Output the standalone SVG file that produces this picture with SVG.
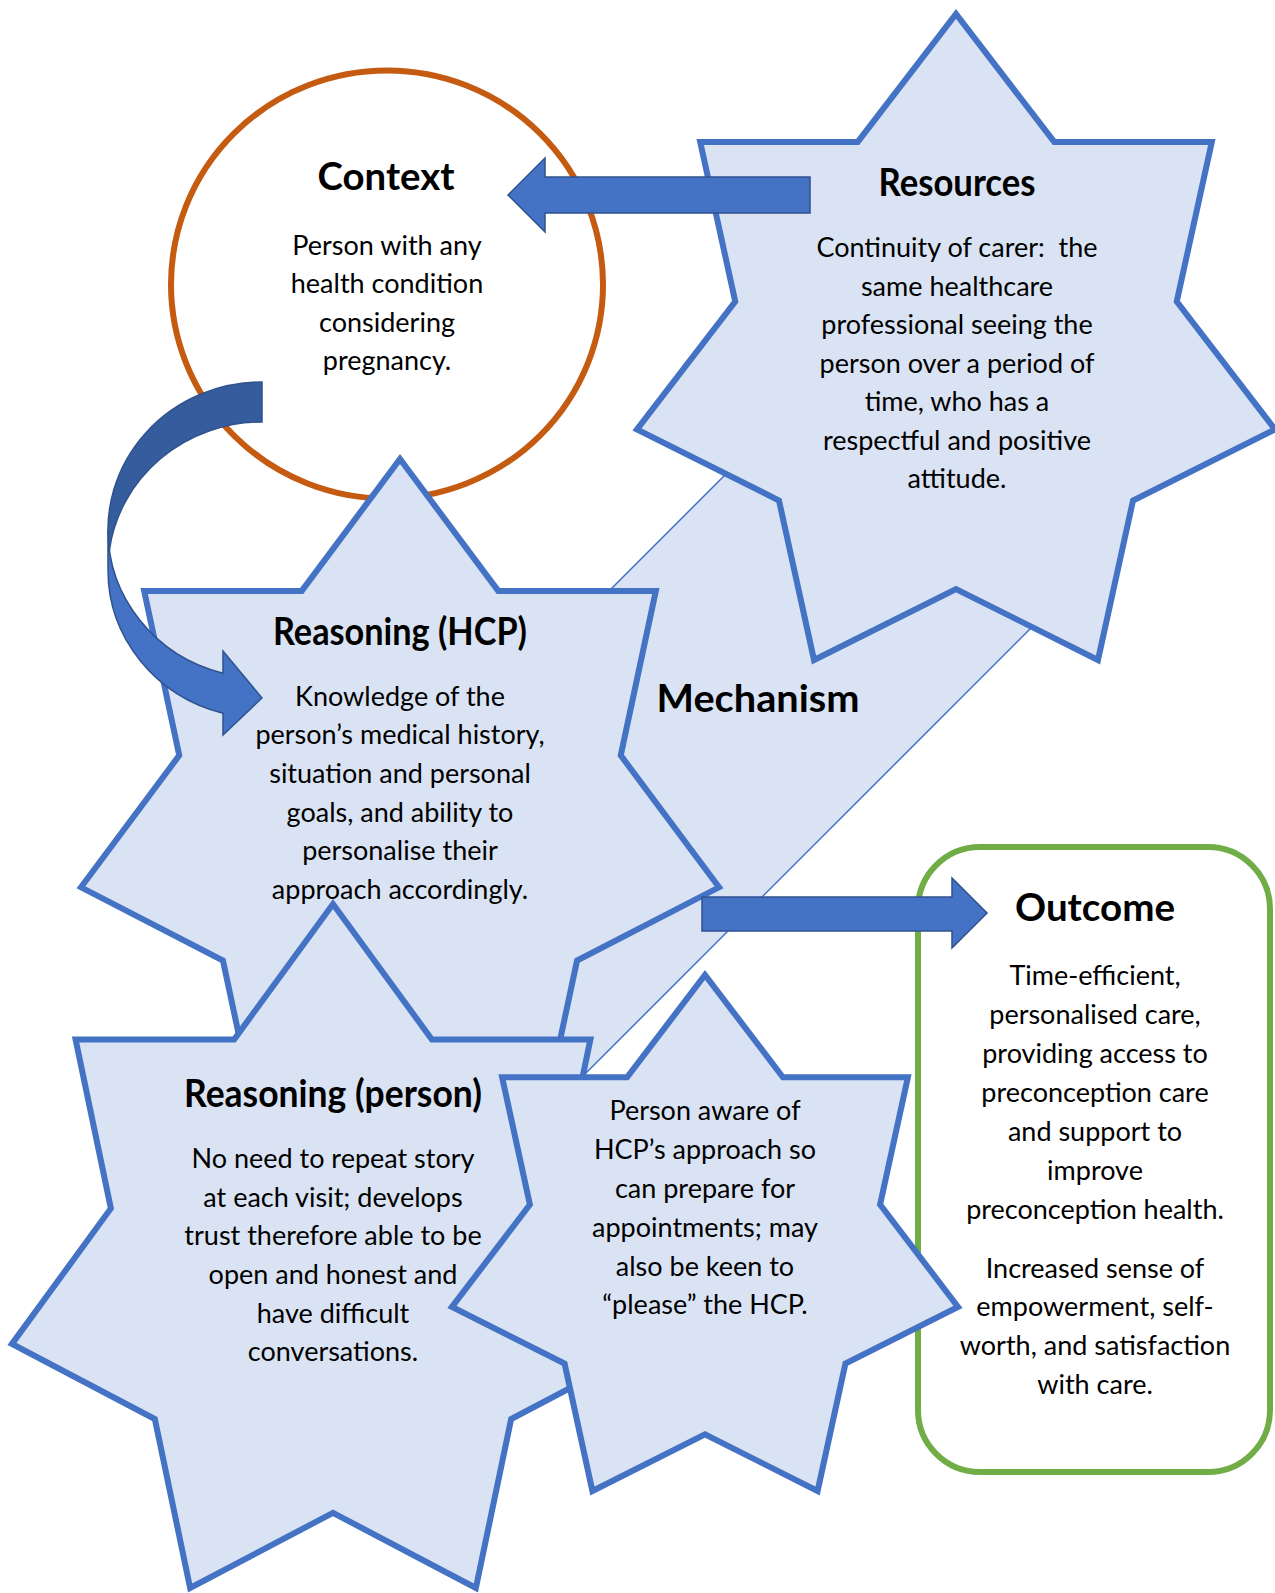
<svg xmlns="http://www.w3.org/2000/svg" width="1275" height="1593" viewBox="0 0 1275 1593">
<style>
.star{fill:#DAE3F3;stroke:#4472C4;stroke-width:6;stroke-linejoin:miter;stroke-miterlimit:10}
.band{fill:#DAE3F3;stroke:#4472C4;stroke-width:1.5}
.arrow{fill:#4472C4;stroke:#2F528F;stroke-width:1.5;stroke-linejoin:miter}
.dark{fill:#355C9C;stroke:#2F528F;stroke-width:1.5}
.t{font-family:Lato,'Liberation Sans',sans-serif;font-size:27px;text-anchor:middle;fill:#000}
.h{font-family:Lato,'Liberation Sans',sans-serif;font-size:38px;font-weight:bold;text-anchor:middle;fill:#000}
</style>
<rect width="1275" height="1593" fill="#fff"/>

<g id="mechanism">
<polygon class="band" points="830,370 1059.5,599.5 549.5,1109.5 320,880"/>
<text class="h" x="758" y="712" textLength="203" lengthAdjust="spacingAndGlyphs">Mechanism</text>
</g>

<g id="context">
<ellipse cx="387" cy="284.5" rx="216" ry="214" fill="#fff" stroke="#C55A11" stroke-width="6"/>
<text class="h" x="386" y="190" textLength="137" lengthAdjust="spacingAndGlyphs">Context</text>
<text class="t" x="387" y="255">Person with any</text>
<text class="t" x="387" y="293">health condition</text>
<text class="t" x="387" y="332">considering</text>
<text class="t" x="387" y="370">pregnancy.</text>
</g>

<g id="resources">
<polygon class="star" points="637,429.45 735.25,301.5 700.18,141.95 857.76,141.95 956,14 1054.24,141.95 1211.82,141.95 1176.75,301.5 1275,429.45 1133.03,500.46 1097.97,660 956,589 814.03,660 778.97,500.46"/>
<text class="h" x="957" y="196" textLength="157" lengthAdjust="spacingAndGlyphs">Resources</text>
<text class="t" x="957" y="257" xml:space="preserve">Continuity of carer:  the</text>
<text class="t" x="957" y="295.5">same healthcare</text>
<text class="t" x="957" y="334">professional seeing the</text>
<text class="t" x="957" y="372.5">person over a period of</text>
<text class="t" x="957" y="411">time, who has a</text>
<text class="t" x="957" y="449.5">respectful and positive</text>
<text class="t" x="957" y="488">attitude.</text>
</g>

<g id="reasoning-hcp">
<polygon class="star" points="81,887.31 179.25,755.4 144.18,590.91 301.76,590.91 400,459 498.24,590.91 655.82,590.91 620.75,755.4 719,887.31 577.03,960.52 541.97,1125 400,1051.8 258.03,1125 222.97,960.52"/>
<text class="h" x="400" y="645" textLength="254" lengthAdjust="spacingAndGlyphs">Reasoning (HCP)</text>
<text class="t" x="400" y="706">Knowledge of the</text>
<text class="t" x="400" y="744">person’s medical history,</text>
<text class="t" x="400" y="783">situation and personal</text>
<text class="t" x="400" y="822">goals, and ability to</text>
<text class="t" x="400" y="860">personalise their</text>
<text class="t" x="400" y="899">approach accordingly.</text>
</g>

<g id="reasoning-person">
<polygon class="star" points="12,1343.89 110.86,1208.41 75.58,1039.48 234.14,1039.48 333,904 431.86,1039.48 590.42,1039.48 555.14,1208.41 654,1343.89 511.14,1419.07 475.86,1588.01 333,1512.82 190.14,1588.01 154.86,1419.07"/>
<text class="h" x="333" y="1107" textLength="298" lengthAdjust="spacingAndGlyphs">Reasoning (person)</text>
<text class="t" x="333" y="1168">No need to repeat story</text>
<text class="t" x="333" y="1207">at each visit; develops</text>
<text class="t" x="333" y="1245">trust therefore able to be</text>
<text class="t" x="333" y="1284">open and honest and</text>
<text class="t" x="333" y="1322.5">have difficult</text>
<text class="t" x="333" y="1361">conversations.</text>
</g>

<g id="outcome">
<rect x="918" y="847" width="352" height="625" rx="62" ry="62" fill="#fff" stroke="#70AD47" stroke-width="6"/>
<text class="h" x="1095" y="921" textLength="160" lengthAdjust="spacingAndGlyphs">Outcome</text>
<text class="t" x="1095" y="985">Time-efficient,</text>
<text class="t" x="1095" y="1024">personalised care,</text>
<text class="t" x="1095" y="1063">providing access to</text>
<text class="t" x="1095" y="1102">preconception care</text>
<text class="t" x="1095" y="1141">and support to</text>
<text class="t" x="1095" y="1180">improve</text>
<text class="t" x="1095" y="1219">preconception health.</text>
<text class="t" x="1095" y="1278">Increased sense of</text>
<text class="t" x="1095" y="1316">empowerment, self-</text>
<text class="t" x="1095" y="1355">worth, and satisfaction</text>
<text class="t" x="1095" y="1394">with care.</text>
</g>

<g id="person-aware">
<polygon class="star" points="452,1306.84 529.91,1204.64 502.11,1077.2 627.08,1077.2 705,975 782.92,1077.2 907.89,1077.2 880.09,1204.64 958,1306.84 845.41,1363.56 817.6,1491 705,1434.28 592.4,1491 564.59,1363.56"/>
<text class="t" x="705" y="1120">Person aware of</text>
<text class="t" x="705" y="1159">HCP’s approach so</text>
<text class="t" x="705" y="1198">can prepare for</text>
<text class="t" x="705" y="1237">appointments; may</text>
<text class="t" x="705" y="1276">also be keen to</text>
<text class="t" x="705" y="1314">“please” the HCP.</text>
</g>

<g id="connectors">
<polygon class="arrow" points="810,177 545,177 545,158 508,195 545,232 545,213 810,213"/>
<polygon class="arrow" points="702,897 952,897 952,878 987,913 952,948 952,931 702,931"/>
<path class="arrow" d="M108,530 A154,148 0 0 0 223,673.2 L223,651 L262,698 L223,735 L223,713.2 A154,148 0 0 1 108,570 Z"/>
<path class="dark" d="M262,422 A154,148 0 0 0 109.4,550 A154,148 0 0 1 262,382 Z"/>
</g>
</svg>
